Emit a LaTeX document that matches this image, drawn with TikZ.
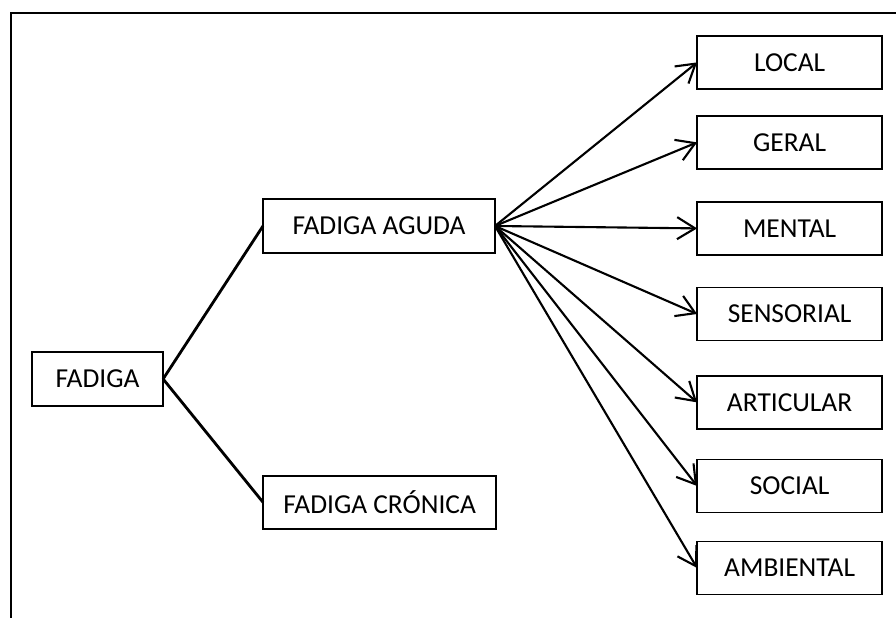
\documentclass[tikz,border=0pt]{standalone}
\usepackage{fontspec}
\setmainfont{Carlito}
\usetikzlibrary{arrows.meta}
\tikzset{
  caixa/.style={draw, line width=1.2pt, minimum height=1.33cm, inner sep=0pt, outer sep=0pt, font=\fontsize{19.5}{23}\selectfont},
  ramo/.style={draw, line width=2pt},
  seta/.style={draw, line width=1.5pt, -{Straight Barb[length=4.5mm,width=5.5mm,line width=1.5pt]}}
}
\begin{document}
\begin{tikzpicture}
\useasboundingbox (0,0) rectangle (22.4,15.45);
\draw[line width=1.4pt] (0.275,0) -- (0.275,15.125) -- (22.4,15.125);

% Left part
\node[caixa, minimum width=3.275cm, minimum height=1.35cm] (fadiga) at (2.44,5.975) {FADIGA};
\node[caixa, minimum width=5.8cm, minimum height=1.35cm] (aguda) at (9.475,9.8) {FADIGA AGUDA\hspace{0.5cm}};
\node[caixa, minimum width=5.825cm] (cronica) at (9.49,2.89) {FADIGA CRÓNICA};

% Right column top to bottom
\node[caixa, minimum width=4.625cm] (local) at (19.74,13.89) {LOCAL};
\node[caixa, minimum width=4.625cm] (geral) at (19.74,11.89) {GERAL};
\node[caixa, minimum width=4.625cm] (mental) at (19.74,9.74) {MENTAL};
\node[caixa, minimum width=4.625cm] (sensorial) at (19.74,7.6) {SENSORIAL};
\node[caixa, minimum width=4.625cm] (articular) at (19.74,5.39) {ARTICULAR};
\node[caixa, minimum width=4.625cm] (social) at (19.74,3.3) {SOCIAL};
\node[caixa, minimum width=4.625cm] (ambiental) at (19.74,1.25) {AMBIENTAL};

% Branches
\draw[ramo] (fadiga.east) -- (aguda.west);
\draw[ramo] (fadiga.east) -- (cronica.west);

% Arrows
\draw[seta] (aguda.east) -- (local.west);
\draw[seta] (aguda.east) -- (geral.west);
\draw[seta] (aguda.east) -- (mental.west);
\draw[seta] (aguda.east) -- (sensorial.west);
\draw[seta] (aguda.east) -- (articular.west);
\draw[seta] (aguda.east) -- (social.west);
\draw[seta] (aguda.east) -- (ambiental.west);
\end{tikzpicture}
\end{document}
